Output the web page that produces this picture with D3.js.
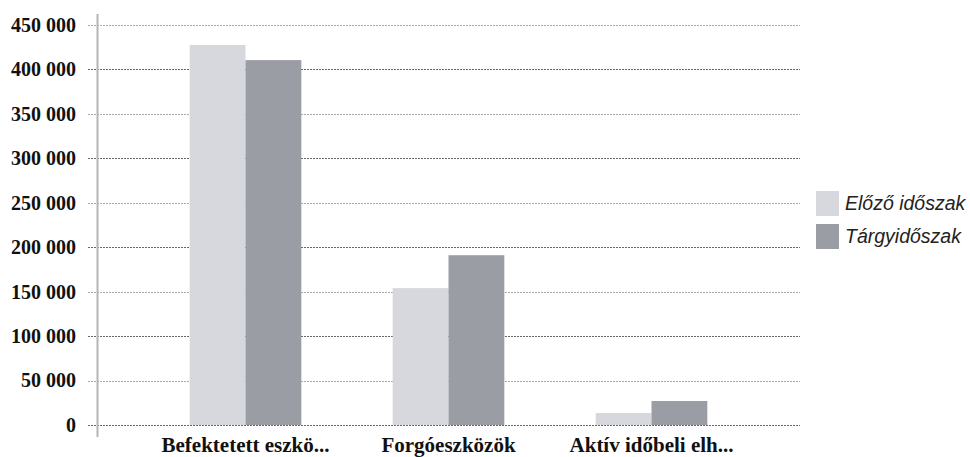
<!DOCTYPE html>
<html>
<head>
<meta charset="utf-8">
<script src="https://cdn.jsdelivr.net/npm/d3@7"></script>
<style>
  body { margin: 0; background: #fff; }
  .tick text { font-family: "Liberation Serif", serif; font-weight: bold; }
</style>
</head>
<body>
<div id="chart"></div>
<script>
// chart values
var categories = ['Befektetett eszkö...', 'Forgóeszközök', 'Aktív időbeli elh...'];
var seriesNames = ['Előző időszak', 'Tárgyidőszak'];
var previous = [427500, 154000, 13500];
var current = [410500, 191000, 27000];
var yTicks = [0, 50000, 100000, 150000, 200000, 250000, 300000, 350000, 400000, 450000];
var colors = ['#d7d7de', '#9b9da4'];

var width = 970, height = 457;

var svg = d3.select('#chart')
  .append('svg')
  .attr('width', width)
  .attr('height', height);

var y = d3.scaleLinear()
  .domain([0, 450000])
  .range([425, 25]);

var x0 = d3.scaleBand()
  .domain(categories)
  .range([144, 753])
  .paddingInner(0.45)
  .paddingOuter(0.225);

var x1 = d3.scaleBand()
  .domain(seriesNames)
  .range([0, x0.bandwidth()]);

var fmt = function(d) { return d3.format(',')(d).replace(/,/g, ' '); };

// gridlines
svg.append('g')
  .selectAll('line')
  .data(yTicks)
  .join('line')
  .attr('x1', 88)
  .attr('x2', 800)
  .attr('y1', function(d) { return Math.round(y(d)) + 0.5; })
  .attr('y2', function(d) { return Math.round(y(d)) + 0.5; })
  .style('stroke', function(d, i) { return i % 2 ? '#aaa' : '#666'; })
  .style('stroke-width', '1px')
  .style('stroke-dasharray', '2,1');

// y axis labels
var yAxis = svg.append('g')
  .attr('transform', 'translate(97,0)')
  .call(d3.axisLeft(y).tickValues(yTicks).tickFormat(fmt).tickSize(0).tickPadding(21));
yAxis.select('.domain').remove();
yAxis.selectAll('text')
  .style('font-size', '20px')
  .style('fill', '#111');

// vertical axis line
svg.append('line')
  .attr('x1', 97.5).attr('x2', 97.5)
  .attr('y1', 14).attr('y2', 437)
  .style('stroke', '#b5b5b5')
  .style('stroke-width', '2px');

// bars
var groups = svg.append('g')
  .selectAll('g')
  .data(categories)
  .join('g')
  .attr('transform', function(d) { return 'translate(' + x0(d) + ',0)'; });

groups.selectAll('rect')
  .data(function(d, i) {
    return [
      {s: seriesNames[0], v: previous[i], c: colors[0]},
      {s: seriesNames[1], v: current[i], c: colors[1]}
    ];
  })
  .join('rect')
  .attr('x', function(d) { return x1(d.s); })
  .attr('y', function(d) { return y(d.v); })
  .attr('width', x1.bandwidth())
  .attr('height', function(d) { return y(0) - y(d.v); })
  .style('fill', function(d) { return d.c; });

// category labels
var xAxis = svg.append('g')
  .attr('transform', 'translate(0,425)')
  .call(d3.axisBottom(x0).tickSize(0).tickPadding(12));
xAxis.select('.domain').remove();
xAxis.selectAll('text')
  .style('font-size', '21px')
  .style('fill', '#111');

// legend
var legend = svg.append('g')
  .selectAll('g')
  .data(seriesNames)
  .join('g')
  .attr('transform', function(d, i) { return 'translate(816,' + (191 + i * 33) + ')'; });

legend.append('rect')
  .attr('width', 23)
  .attr('height', 25)
  .style('fill', function(d, i) { return colors[i]; });

legend.append('text')
  .attr('x', 29)
  .attr('y', 19)
  .text(function(d) { return d; })
  .style('font-family', '"Liberation Sans", Arial, sans-serif')
  .style('font-style', 'italic')
  .style('font-size', '19.5px')
  .style('fill', '#222');
</script>
</body>
</html>
